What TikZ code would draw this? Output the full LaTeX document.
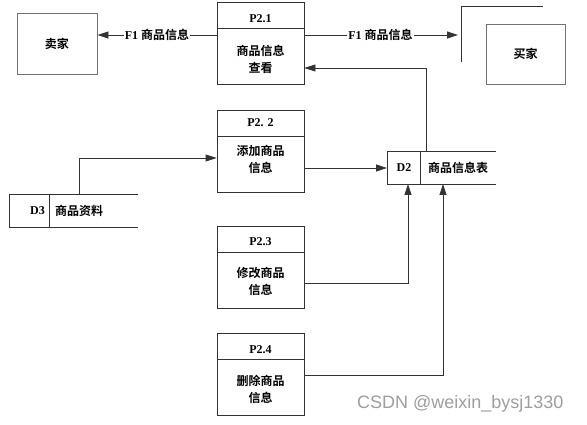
\documentclass[tikz,border=0pt]{standalone}
\usepackage{fontspec}
\setmainfont{Liberation Serif}
\newfontfamily\cjk[BoldFont={Noto Sans CJK SC Bold}]{Noto Sans CJK SC}
\newfontfamily\wmfont{Liberation Sans}
\usetikzlibrary{arrows.meta}
\newcommand\zh[1]{{\cjk\bfseries #1}}
\begin{document}
\begin{tikzpicture}[x=1pt,y=-1pt,
  every node/.style={font=\fontsize{12}{17}\selectfont\bfseries, inner sep=0pt},
  entity/.style={draw=black!55, line width=0.9pt, minimum width=80pt, minimum height=61pt},
  proc/.style={draw=black!80, line width=0.8pt, minimum width=87pt, minimum height=82pt},
  line/.style={draw=black!80, line width=0.8pt},
  flow/.style={line, -{Triangle[length=11pt,width=7pt]}},
  flowlabel/.style={fill=white, inner xsep=1pt, inner ysep=2pt}]
\useasboundingbox (0,0) rectangle (587,425);

% external entities
\node[entity] (seller) at (57,44) {\zh{卖家}};
\node[entity, minimum width=79pt, minimum height=60pt] (buyer) at (525.5,54) {\zh{买家}};
\coordinate (bk1) at (461,62);
\coordinate (bk2) at (461,6);
\coordinate (bk3) at (543,6);
\draw[line] (bk1) -- (bk2) -- (bk3);

% processes
\node[proc] (p1) at (260.5,43) {};
\draw[line] (p1.west |- 0,28) -- (p1.east |- 0,28);
\node (p1t) at (260.5,19) {P2.1};
\node[align=center] (p1n) at (260.5,59.5) {\zh{商品信息}\\\zh{查看}};

\node[proc] (p2) at (260.5,151) {};
\draw[line] (p2.west |- 0,136) -- (p2.east |- 0,136);
\node (p2t) at (260.5,123) {P2. 2};
\node[align=center] (p2n) at (260.5,159) {\zh{添加商品}\\\zh{信息}};

\node[proc] (p3) at (260.5,267) {};
\draw[line] (p3.west |- 0,252) -- (p3.east |- 0,252);
\node (p3t) at (260.5,242) {P2.3};
\node[align=center] (p3n) at (260.5,281.5) {\zh{修改商品}\\\zh{信息}};

\node[proc] (p4) at (260.5,374) {};
\draw[line] (p4.west |- 0,359) -- (p4.east |- 0,359);
\node (p4t) at (260.5,350) {P2.4};
\node[align=center] (p4n) at (260.5,389.5) {\zh{删除商品}\\\zh{信息}};

% data stores
\coordinate (d3a) at (138,194);
\coordinate (d3b) at (9,194);
\coordinate (d3c) at (9,227);
\coordinate (d3d) at (138,227);
\draw[line] (d3a) -- (d3b) -- (d3c) -- (d3d);
\draw[line] (49,194) -- (49,227);
\node[anchor=east] (d3id) at (45,211) {D3};
\node[anchor=west] (d3n) at (55,211) {\zh{商品资料}};

\coordinate (d2a) at (496,151);
\coordinate (d2b) at (387,151);
\coordinate (d2c) at (387,184);
\coordinate (d2d) at (496,184);
\node[minimum width=33pt, minimum height=33pt] (d2) at (403.5,167.5) {};
\draw[line] (d2a) -- (d2b) -- (d2c) -- (d2d);
\draw[line] (420,151) -- (420,184);
\node (d2id) at (404,167.5) {D2};
\node[anchor=west] (d2n) at (428,167.5) {\zh{商品信息表}};

% flows
\draw[flow] (p1.west |- 0,35) -- node[flowlabel, pos=0.5] (f1) {F1 \zh{商品信息}} (seller.east |- 0,35);
\draw[flow] (p1.east |- 0,35) -- node[flowlabel, pos=0.495] (f2) {F1 \zh{商品信息}} (458,35);
\draw[flow] (426,151) -- (426,68) -- (p1.east |- 0,68);
\draw[flow] (79,194) -- (79,158) -- (p2.west |- 0,158);
\draw[flow] (p2.east |- 0,168) -- (d2b |- 0,168);
\draw[flow] (p3.east |- 0,283) -- (408,283) -- (408,184);
\draw[flow] (p4.east |- 0,375) -- (443,375) -- (443,184);

% watermark
\node[font=\wmfont\fontsize{18}{20}\selectfont, text=black!38, anchor=west] (wm) at (357,404) {CSDN @weixin\_bysj1330};
\end{tikzpicture}
\end{document}
